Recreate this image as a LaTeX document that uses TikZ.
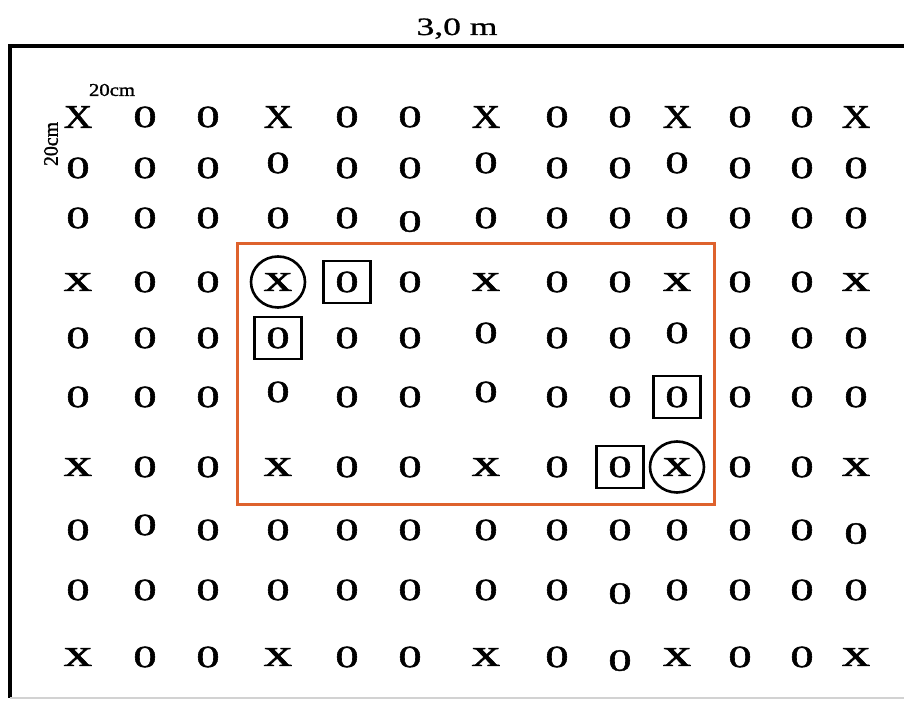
\documentclass[tikz,border=0pt]{standalone}
\usepackage{fontspec}
\usepackage{graphicx}
\usetikzlibrary{shapes.geometric}
\newfontfamily\tnr[FakeBold=1.3]{Liberation Serif}
\newfontfamily\tnrlab[FakeBold=0.8]{Liberation Serif}
\definecolor{plotorange}{RGB}{222,98,45}
\newcommand\gridfont{\tnr\fontsize{15.5}{18}\selectfont}
\newcommand\bigXfont{\tnr\fontsize{16.5}{19}\selectfont}
\newcommand\smallxfont{\tnr\fontsize{19.5}{22}\selectfont}
\newcommand\labfont{\tnrlab\fontsize{12.5}{15}\selectfont}
\newcommand\tinylabfont{\tnr\fontsize{9}{11}\selectfont}
\def\colx{{78,145,208,278,347,410,486,557,620,677,740,802,856}}
\begin{document}
\begin{tikzpicture}[x=0.5pt,y=-0.5pt,
  glyph/.style={inner sep=0pt, text=black},
  symo/.style={glyph, font=\gridfont, node contents={\scalebox{1.5}[1]{0}}},
  symu/.style={symo, yshift=2.5pt},
  symd/.style={symo, yshift=-1.8pt},
  symX/.style={glyph, font=\bigXfont, node contents={\scalebox{1.2}[1]{X}}},
  symx/.style={glyph, font=\smallxfont, node contents={\scalebox{1.45}[1]{x}}},
  boxmark/.style={draw, line width=1.3pt, minimum width=23.5pt, minimum height=21pt, inner sep=0pt},
  circmark/.style={draw, ellipse, line width=1.3pt, minimum width=27pt, minimum height=25.5pt, inner sep=0pt},
  frameline/.style={line width=1.8pt, black},
  areabox/.style={draw=plotorange, line width=1.5pt}
]
\useasboundingbox (0,0) rectangle (904,704);
\fill[white] (0,0) rectangle (904,704);

% frame
\coordinate (ftl) at (8,46);
\coordinate (ftr) at (904,46);
\coordinate (fl1) at (10,45);
\coordinate (fl2) at (10,698);
\coordinate (fbr) at (904,698);
\draw[frameline] (ftl) -- (ftr);
\draw[frameline, line width=1.6pt] (fl1) -- (fl2);
\draw[gray!35, line width=0.6pt] (fl2) -- (fbr);

% labels
\node[font=\labfont, anchor=base, inner sep=0pt] (title) at (457,35) {\scalebox{1.42}[1]{3,0 m}};
\node[font=\tinylabfont, inner sep=0pt] (wlab) at (112,90) {\scalebox{1.15}[1]{20cm}};
\node[font=\tinylabfont, inner sep=0pt, rotate=90] (hlab) at (51,144) {\scalebox{1.1}[1.15]{20cm}};

% grid
\foreach \rr/\yy/\row in {
  1/117/{X,o,o,X,o,o,X,o,o,X,o,o,X},
  2/168/{o,o,o,u,o,o,u,o,o,u,o,o,o},
  3/218/{o,o,o,o,o,d,o,o,o,o,o,o,o},
  4/282/{x,o,o,x,o,o,x,o,o,x,o,o,x},
  5/338/{o,o,o,o,o,o,u,o,o,u,o,o,o},
  6/397/{o,o,o,u,o,o,u,o,o,o,o,o,o},
  7/467/{x,o,o,x,o,o,x,o,o,x,o,o,x},
  8/530/{o,u,o,o,o,o,o,o,o,o,o,o,d},
  9/590/{o,o,o,o,o,o,o,o,d,o,o,o,o},
  10/657/{x,o,o,x,o,o,x,o,d,x,o,o,x}} {
  \foreach \s [count=\cc] in \row {
    \pgfmathsetmacro\xx{\colx[\cc-1]}
    \node at (\xx,\yy) [name=r\rr-\cc, sym\s];
  }
}

% marks
\node[circmark] (m1) at (r4-4.center) {};
\node[circmark] (m2) at (r7-10.center) {};
\node[boxmark] (m3) at (r4-5.center) {};
\node[boxmark] (m4) at (r5-4.center) {};
\node[boxmark] (m5) at (r6-10.center) {};
\node[boxmark] (m6) at (r7-9.center) {};

% area
\coordinate (a1) at (237,244);
\coordinate (a2) at (714,505);
\draw[areabox] (a1) rectangle (a2);
\end{tikzpicture}
\end{document}
